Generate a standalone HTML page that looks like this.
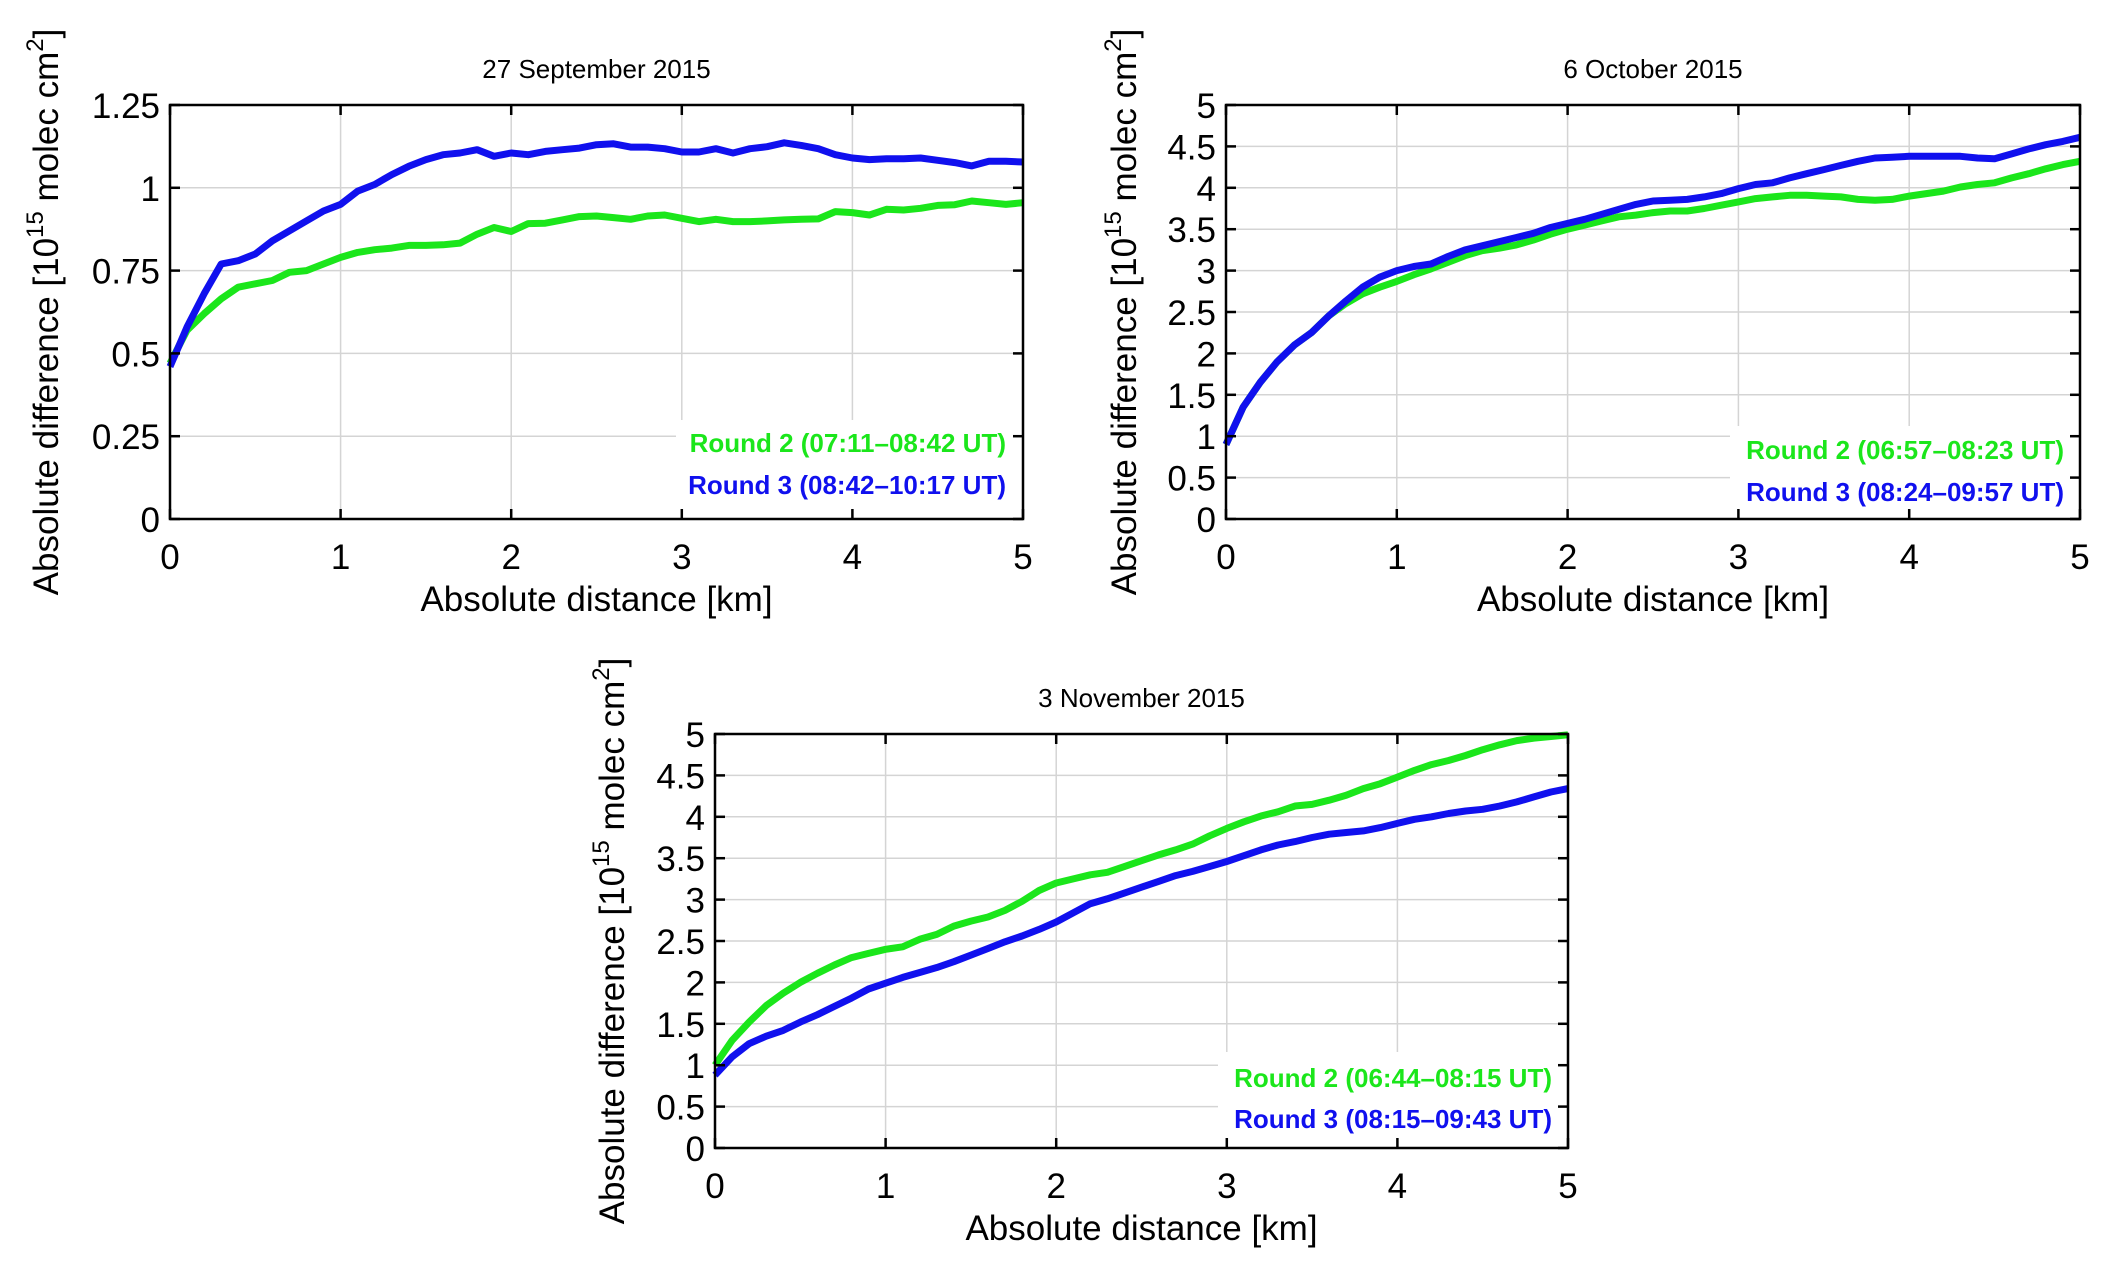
<!DOCTYPE html>
<html><head><meta charset="utf-8"><style>
html,body{margin:0;padding:0;background:#fff;}
svg{display:block;font-family:"Liberation Sans",Arial,sans-serif;}
</style></head><body>
<svg id="fig" width="2114" height="1270" viewBox="0 0 2114 1270" xmlns="http://www.w3.org/2000/svg"></svg>
<script>
const xValues = [0,0.1,0.2,0.3,0.4,0.5,0.6,0.7,0.8,0.9,1.0,1.1,1.2,1.3,1.4,1.5,1.6,1.7,1.8,1.9,2.0,2.1,2.2,2.3,2.4,2.5,2.6,2.7,2.8,2.9,3.0,3.1,3.2,3.3,3.4,3.5,3.6,3.7,3.8,3.9,4.0,4.1,4.2,4.3,4.4,4.5,4.6,4.7,4.8,4.9,5.0];
const sepRound2 = [0.47,0.57,0.62,0.665,0.70,0.71,0.72,0.745,0.75,0.77,0.79,0.805,0.813,0.818,0.826,0.826,0.828,0.833,0.86,0.88,0.868,0.892,0.893,0.903,0.913,0.915,0.91,0.905,0.915,0.918,0.908,0.898,0.905,0.898,0.898,0.9,0.903,0.905,0.906,0.928,0.925,0.918,0.935,0.933,0.938,0.947,0.949,0.96,0.955,0.95,0.955];
const sepRound3 = [0.46,0.58,0.68,0.77,0.78,0.80,0.84,0.87,0.9,0.93,0.95,0.99,1.01,1.04,1.065,1.085,1.10,1.105,1.115,1.095,1.105,1.10,1.11,1.115,1.12,1.13,1.133,1.123,1.123,1.118,1.108,1.108,1.118,1.105,1.118,1.124,1.136,1.128,1.118,1.10,1.09,1.085,1.088,1.088,1.09,1.083,1.076,1.066,1.08,1.08,1.078];
const octRound2 = [0.9,1.35,1.65,1.9,2.1,2.25,2.45,2.6,2.72,2.8,2.87,2.95,3.02,3.1,3.18,3.24,3.27,3.31,3.37,3.44,3.5,3.55,3.6,3.65,3.67,3.7,3.72,3.72,3.75,3.79,3.83,3.87,3.89,3.91,3.91,3.9,3.89,3.86,3.85,3.86,3.9,3.93,3.96,4.01,4.04,4.06,4.12,4.17,4.23,4.28,4.32];
const octRound3 = [0.9,1.35,1.65,1.9,2.1,2.25,2.45,2.63,2.8,2.92,3.0,3.05,3.08,3.17,3.25,3.3,3.35,3.4,3.45,3.52,3.57,3.62,3.68,3.74,3.8,3.84,3.85,3.86,3.89,3.93,3.99,4.04,4.06,4.12,4.17,4.22,4.27,4.32,4.36,4.37,4.38,4.38,4.38,4.38,4.36,4.35,4.41,4.47,4.52,4.56,4.61];
const novRound2 = [1.0,1.3,1.52,1.72,1.87,2.0,2.11,2.21,2.3,2.35,2.4,2.43,2.52,2.58,2.68,2.74,2.79,2.87,2.98,3.11,3.2,3.25,3.3,3.33,3.4,3.47,3.54,3.6,3.67,3.77,3.86,3.94,4.01,4.06,4.13,4.15,4.2,4.26,4.34,4.4,4.48,4.56,4.63,4.68,4.74,4.81,4.87,4.92,4.95,4.97,4.99];
const novRound3 = [0.88,1.1,1.26,1.35,1.42,1.52,1.61,1.71,1.81,1.92,1.99,2.06,2.12,2.18,2.25,2.33,2.41,2.49,2.56,2.64,2.73,2.84,2.95,3.01,3.08,3.15,3.22,3.29,3.34,3.4,3.46,3.53,3.6,3.66,3.7,3.75,3.79,3.81,3.83,3.87,3.92,3.97,4.0,4.04,4.07,4.09,4.13,4.18,4.24,4.3,4.34];
const xTicks = [0,1,2,3,4,5];
const xTickLabels = ["0","1","2","3","4","5"];
const sepYTicks = [0,0.25,0.5,0.75,1,1.25];
const sepYTickLabels = ["0","0.25","0.5","0.75","1","1.25"];
const fiveYTicks = [0,0.5,1,1.5,2,2.5,3,3.5,4,4.5,5];
const fiveYTickLabels = ["0","0.5","1","1.5","2","2.5","3","3.5","4","4.5","5"];

const NS = "http://www.w3.org/2000/svg";
const svg = document.getElementById('fig');
function mk(tag, attrs, parent, text){
  const e = document.createElementNS(NS, tag);
  for (const k in attrs) e.setAttribute(k, attrs[k]);
  if (text !== undefined) e.textContent = text;
  parent.appendChild(e);
  return e;
}
const GREEN = "#1be61b", BLUE = "#1010ee";

function drawPlot(cfg){
  const g = mk('g', {}, svg);
  
  
  const L=cfg.l,R=cfg.r,T=cfg.t,B=cfg.b;
  const sx = v => L + (v - 0) / 5 * (R - L);
  const sy = v => B - (v - cfg.ymin) / (cfg.ymax - cfg.ymin) * (B - T);
  const grid = mk('g', {stroke:"#d4d4d4","stroke-width":1.5}, g);
  
  
  xTicks.forEach(t => mk('line', {x1:sx(t),x2:sx(t),y1:T,y2:B}, grid));
  cfg.yTicks.forEach(t => mk('line', {x1:L,x2:R,y1:sy(t),y2:sy(t)}, grid));
  const lb = mk('rect', {x:cfg.legX, y:cfg.legTop, width:R-cfg.legX-2, height:B-cfg.legTop-2, fill:"#fff"}, g);
  
  
  const series = [[cfg.g, GREEN, 'series-round2'], [cfg.bl, BLUE, 'series-round3']];
  series.forEach(([data,col,nm]) => {
    const d = data.map((v,i) => (i?'L':'M') + sx(xValues[i]).toFixed(1) + ' ' + sy(v).toFixed(1)).join(' ');
    const p = mk('path', {d:d, fill:"none", stroke:col, "stroke-width":7, "stroke-linejoin":"round"}, g);
    
    
  });
  const box = mk('rect', {x:L,y:T,width:R-L,height:B-T,fill:"none",stroke:"#000","stroke-width":2.5}, g);
  
  
  const tk = mk('g', {stroke:"#000","stroke-width":2.5}, g);
  xTicks.forEach(t => { mk('line',{x1:sx(t),x2:sx(t),y1:B,y2:B-10},tk); mk('line',{x1:sx(t),x2:sx(t),y1:T,y2:T+10},tk); });
  cfg.yTicks.forEach(t => { mk('line',{x1:L,x2:L+10,y1:sy(t),y2:sy(t)},tk); mk('line',{x1:R,x2:R-10,y1:sy(t),y2:sy(t)},tk); });
  xTicks.forEach((t,i) => {
    const e = mk('text', {x:sx(t), y:B+50, "text-anchor":"middle", "font-size":35, fill:"#000"}, g, xTickLabels[i]);
    
    
  });
  cfg.yTicks.forEach((t,i) => {
    const e = mk('text', {x:L-10, y:sy(t)+13, "text-anchor":"end", "font-size":35, fill:"#000"}, g, cfg.yLabels[i]);
    
    
  });
  const ti = mk('text', {x:(L+R)/2, y:T-27, "text-anchor":"middle", "font-size":26, fill:"#000"}, g, cfg.title);
  
  
  const xt = mk('text', {x:(L+R)/2, y:B+92, "text-anchor":"middle", "font-size":35, fill:"#000"}, g, "Absolute distance [km]");
  
  
  const yt = mk('text', {x:0, y:0, "text-anchor":"middle", "font-size":35, fill:"#000", transform:`translate(${cfg.ylx},${(T+B)/2}) rotate(-90)`}, g);
  
  
  mk('tspan', {}, yt, "Absolute difference [10");
  mk('tspan', {"font-size":24, dy:-15}, yt, "15");
  mk('tspan', {dy:15}, yt, " molec cm");
  mk('tspan', {"font-size":24, dy:-15}, yt, "2");
  mk('tspan', {dy:15}, yt, "]");
  const l1 = mk('text', {x:cfg.legRight, y:cfg.leg1, "text-anchor":"end", "font-size":26, "font-weight":"bold", fill:GREEN}, g, cfg.legend[0]);
  
  
  const l2 = mk('text', {x:cfg.legRight, y:cfg.leg2, "text-anchor":"end", "font-size":26, "font-weight":"bold", fill:BLUE}, g, cfg.legend[1]);
  
  
}

drawPlot({name:'plot-27-september', l:170,r:1023,t:105,b:519, ymin:0,ymax:1.25, yTicks:sepYTicks, yLabels:sepYTickLabels,
  g:sepRound2, bl:sepRound3, title:"27 September 2015", ylx:58,
  legX:676, legTop:420, legRight:1006, leg1:452, leg2:494,
  legend:["Round 2 (07:11\u201308:42 UT)","Round 3 (08:42\u201310:17 UT)"]});
drawPlot({name:'plot-6-october', l:1226,r:2080,t:105,b:519, ymin:0,ymax:5, yTicks:fiveYTicks, yLabels:fiveYTickLabels,
  g:octRound2, bl:octRound3, title:"6 October 2015", ylx:1136,
  legX:1730, legTop:426, legRight:2064, leg1:459, leg2:501,
  legend:["Round 2 (06:57\u201308:23 UT)","Round 3 (08:24\u201309:57 UT)"]});
drawPlot({name:'plot-3-november', l:715,r:1568,t:734,b:1148, ymin:0,ymax:5, yTicks:fiveYTicks, yLabels:fiveYTickLabels,
  g:novRound2, bl:novRound3, title:"3 November 2015", ylx:624,
  legX:1218, legTop:1052, legRight:1552, leg1:1087, leg2:1128,
  legend:["Round 2 (06:44\u201308:15 UT)","Round 3 (08:15\u201309:43 UT)"]});
</script>
</body></html>
